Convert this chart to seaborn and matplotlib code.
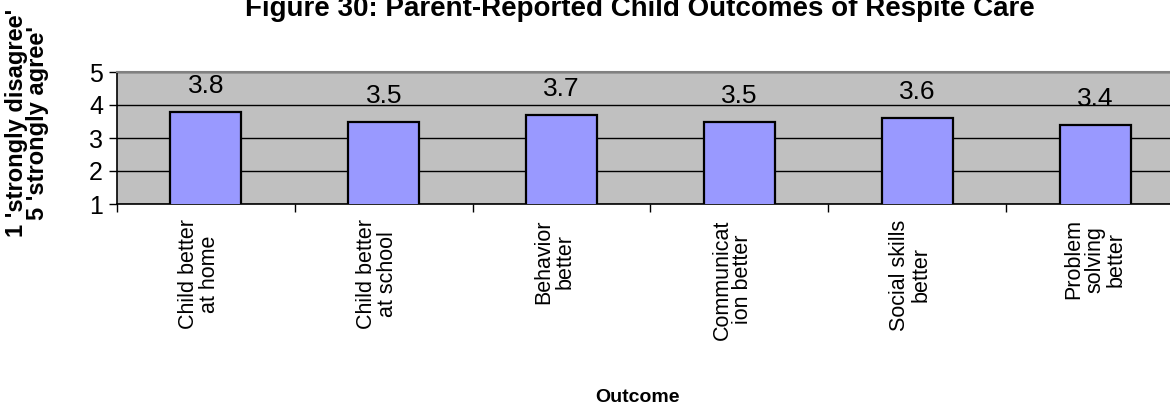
import matplotlib
matplotlib.use("Agg")
import matplotlib.pyplot as plt
import matplotlib.transforms as mtransforms
import seaborn as sns
import pandas as pd
from matplotlib.ticker import FixedLocator

categories = [
    "Child better\nat home",
    "Child better\nat school",
    "Behavior\nbetter",
    "Communicat\nion better",
    "Social skills\nbetter",
    "Problem\nsolving\nbetter",
]
values = [3.8, 3.5, 3.7, 3.5, 3.6, 3.4]
y_ticks = [1, 2, 3, 4, 5]

title = "Figure 30: Parent-Reported Child Outcomes of Respite Care"
y_title = "1 'strongly disagree'\n5 'strongly agree'"
x_title = "Outcome"

sns.set_theme(style="white")
plt.rcParams["font.family"] = ["Liberation Sans", "DejaVu Sans"]
plt.rcParams["text.color"] = "black"
plt.rcParams["xtick.color"] = "black"
plt.rcParams["ytick.color"] = "black"

df = pd.DataFrame({"outcome": categories, "score": values})

W, H = 1170, 413
fig = plt.figure(figsize=(W / 100, H / 100), dpi=100)
fig.patch.set_facecolor("white")

left, right, top, bottom = 117, 1184, 72, 204
ax = fig.add_axes([left / W, 1 - bottom / H, (right - left) / W, (bottom - top) / H])
ax.set_facecolor("#C0C0C0")

sns.barplot(data=df, x="outcome", y="score", ax=ax, width=0.4,
            color="#9999FF", saturation=1, edgecolor="black", linewidth=1.6,
            zorder=3)

ax.set_ylim(1, 5)
ax.set_xlim(-0.5, len(categories) - 0.5)
ax.set_yticks(y_ticks)
ax.yaxis.grid(True, color="black", linewidth=1.0, zorder=1)
ax.set_axisbelow(True)

for i, v in enumerate(values):
    ax.text(i, v + 0.42, f"{v:.1f}", ha="center", va="bottom", fontsize=19,
            color="black", zorder=4)

# category boundaries carry the tick marks; labels sit at the bar centres
ax.xaxis.set_minor_locator(FixedLocator([i - 0.5 for i in range(len(categories) + 1)]))
ax.tick_params(axis="x", which="major", length=0, pad=11)
ax.tick_params(axis="x", which="minor", length=6, width=1, color="black", direction="out", bottom=True)
ax.tick_params(axis="y", length=6, width=1, color="black", direction="out", left=True,
               labelsize=18, pad=4)
ax.set_xticks(range(len(categories)))
ax.set_xticklabels(categories, rotation=90, fontsize=15.5, ha="center", va="top",
                   multialignment="center", linespacing=1.0)
# wrapped labels are laid out in a three-line box, so shorter ones sit to the left
for lab in ax.get_xticklabels():
    n_lines = lab.get_text().count("\n") + 1
    shift = -(3 - n_lines) * 5 / 72
    lab.set_transform(lab.get_transform()
                      + mtransforms.ScaledTranslation(shift, 0, fig.dpi_scale_trans))
ax.set_xlabel("")
ax.set_ylabel("")

for side in ["left", "bottom"]:
    ax.spines[side].set_color("black")
    ax.spines[side].set_linewidth(1.2)
ax.spines["top"].set_color("#808080")
ax.spines["top"].set_linewidth(1.5)
ax.spines["right"].set_visible(False)

fig.text(640 / W, 1 - 16 / H, title, ha="center", va="baseline",
         fontsize=20, fontweight="bold")
fig.text(27 / W, 1 - 123 / H, y_title, ha="center", va="center", rotation=90,
         fontsize=17, fontweight="bold", multialignment="center", linespacing=0.9)
fig.text(638 / W, 1 - 398 / H, x_title, ha="center", va="center",
         fontsize=14, fontweight="bold")

fig.savefig("out.png", dpi=100, facecolor="white")
